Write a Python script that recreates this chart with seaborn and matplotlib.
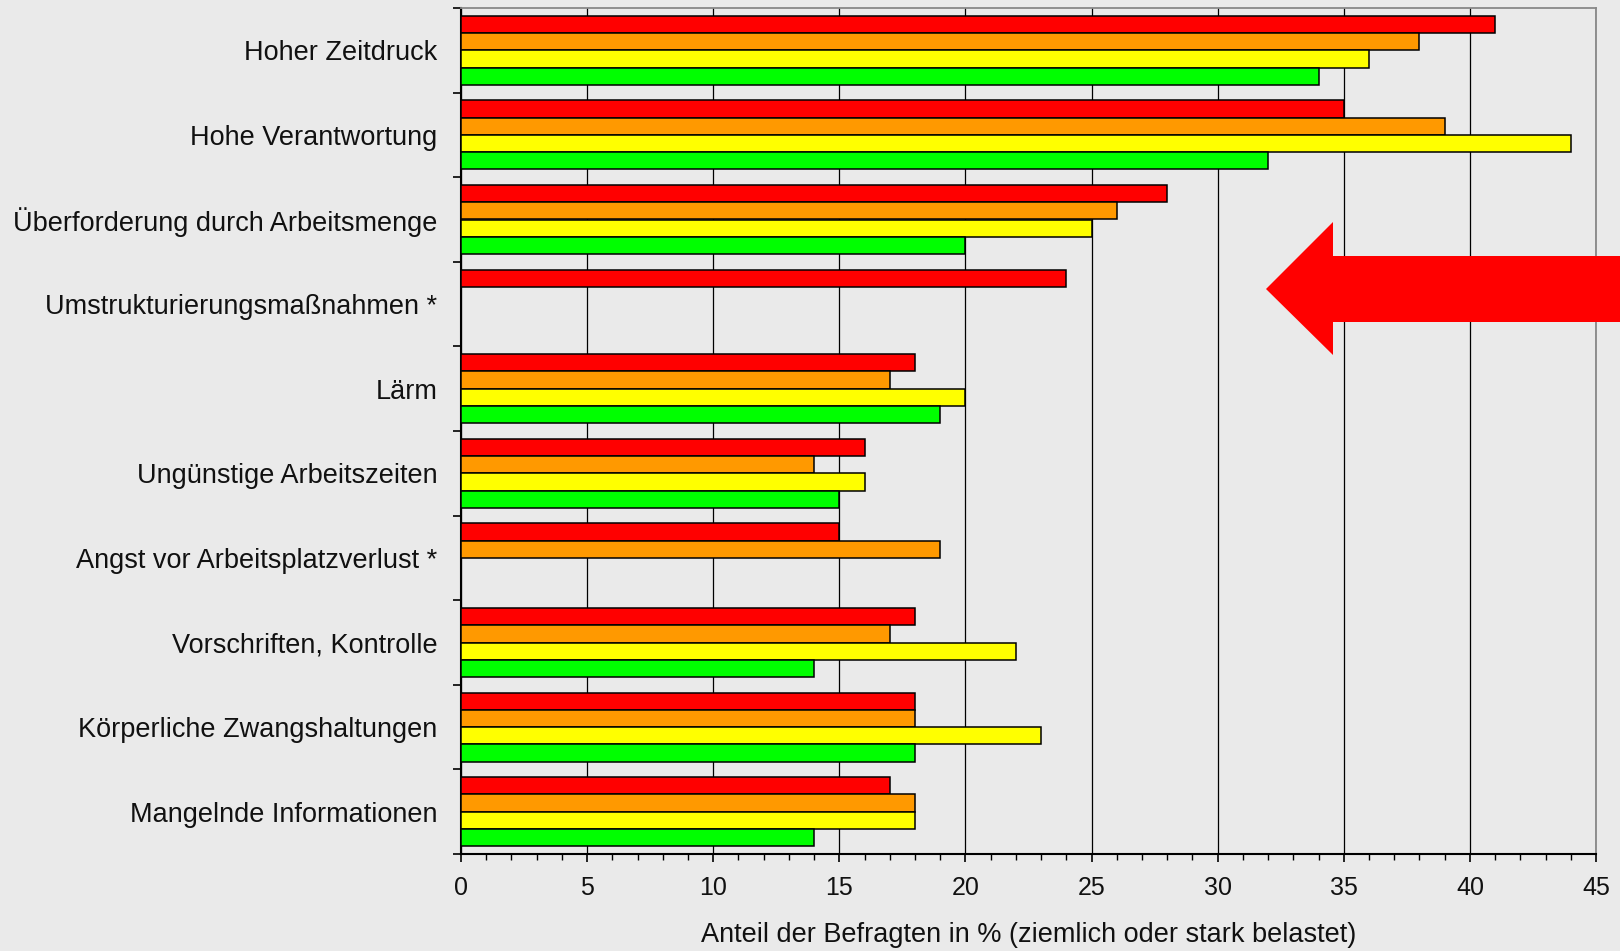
import matplotlib
matplotlib.use("Agg")
import matplotlib.pyplot as plt
from matplotlib.patches import Polygon
from matplotlib.ticker import MultipleLocator, FixedLocator, NullFormatter
import seaborn as sns
import pandas as pd
import numpy as np

categories = [
    "Hoher Zeitdruck",
    "Hohe Verantwortung",
    "Überforderung durch Arbeitsmenge",
    "Umstrukturierungsmaßnahmen *",
    "Lärm",
    "Ungünstige Arbeitszeiten",
    "Angst vor Arbeitsplatzverlust *",
    "Vorschriften, Kontrolle",
    "Körperliche Zwangshaltungen",
    "Mangelnde Informationen",
]
series_names = ["Reihe 1", "Reihe 2", "Reihe 3", "Reihe 4"]
red_vals = [41, 35, 28, 24, 18, 16, 15, 18, 18, 17]
orange_vals = [38, 39, 26, np.nan, 17, 14, 19, 17, 18, 18]
yellow_vals = [36, 44, 25, np.nan, 20, 16, np.nan, 22, 23, 18]
green_vals = [34, 32, 20, np.nan, 19, 15, np.nan, 14, 18, 14]
colors = ["#FF0000", "#FF9900", "#FFFF00", "#00FF00"]
xlabel = "Anteil der Befragten in % (ziemlich oder stark belastet)"

rows = []
for vals, name in zip([red_vals, orange_vals, yellow_vals, green_vals], series_names):
    for cat, v in zip(categories, vals):
        rows.append({"Kategorie": cat, "Reihe": name, "Wert": v})
df = pd.DataFrame(rows)

sns.set_style("white")
plt.rcParams["font.family"] = ["Liberation Sans", "DejaVu Sans"]
BG = "#EAEAEA"

W, H = 1620, 951
fig = plt.figure(figsize=(W / 100, H / 100), dpi=100, facecolor=BG)
ax = fig.add_axes([461 / W, 1 - 854 / H, (1596 - 461) / W, (854 - 8) / H])
ax.set_facecolor(BG)

sns.barplot(data=df, y="Kategorie", x="Wert", hue="Reihe", order=categories,
            hue_order=series_names, palette=colors, orient="h", width=0.815,
            edgecolor="black", linewidth=1.1, saturation=1, legend=False, ax=ax,
            zorder=3)

ax.set_xlim(0, 45)
ax.set_ylim(len(categories) - 0.5, -0.5)
ax.xaxis.set_major_locator(MultipleLocator(5))
ax.xaxis.set_minor_locator(MultipleLocator(1))
ax.grid(axis="x", which="major", color="black", linewidth=0.9, zorder=0)
ax.set_axisbelow(True)
ax.grid(axis="y", visible=False)

ax.yaxis.set_minor_locator(FixedLocator(np.arange(-0.5, len(categories), 1.0)))
ax.yaxis.set_minor_formatter(NullFormatter())
ax.tick_params(axis="y", which="major", length=0, pad=17, labelsize=19.5,
               labelcolor="#111111")
ax.tick_params(axis="y", which="minor", left=True, length=6, width=1.2, color="black")
ax.tick_params(axis="x", which="major", bottom=True, length=6, width=1.2, pad=10,
               labelsize=18, color="black", labelcolor="#111111")
ax.tick_params(axis="x", which="minor", bottom=True, length=4, width=1.0, color="black")

for side in ["left", "bottom"]:
    ax.spines[side].set_color("black")
    ax.spines[side].set_linewidth(1.5)
for side in ["top", "right"]:
    ax.spines[side].set_visible(True)
    ax.spines[side].set_color("#888888")
    ax.spines[side].set_linewidth(1.3)

ax.set_ylabel("")
ax.set_xlabel(xlabel, fontsize=19.5, labelpad=16, color="#111111")

# red arrow annotation (figure pixel coordinates)
pts = [(1266, 289), (1333, 222), (1333, 256), (1620, 256),
       (1620, 322), (1333, 322), (1333, 355)]
pts_f = [(x / W, 1 - y / H) for x, y in pts]
fig.patches.append(Polygon(pts_f, closed=True, transform=fig.transFigure,
                           facecolor="#FF0000", edgecolor="none", zorder=10))

fig.savefig("out.png", dpi=100, facecolor=BG)
